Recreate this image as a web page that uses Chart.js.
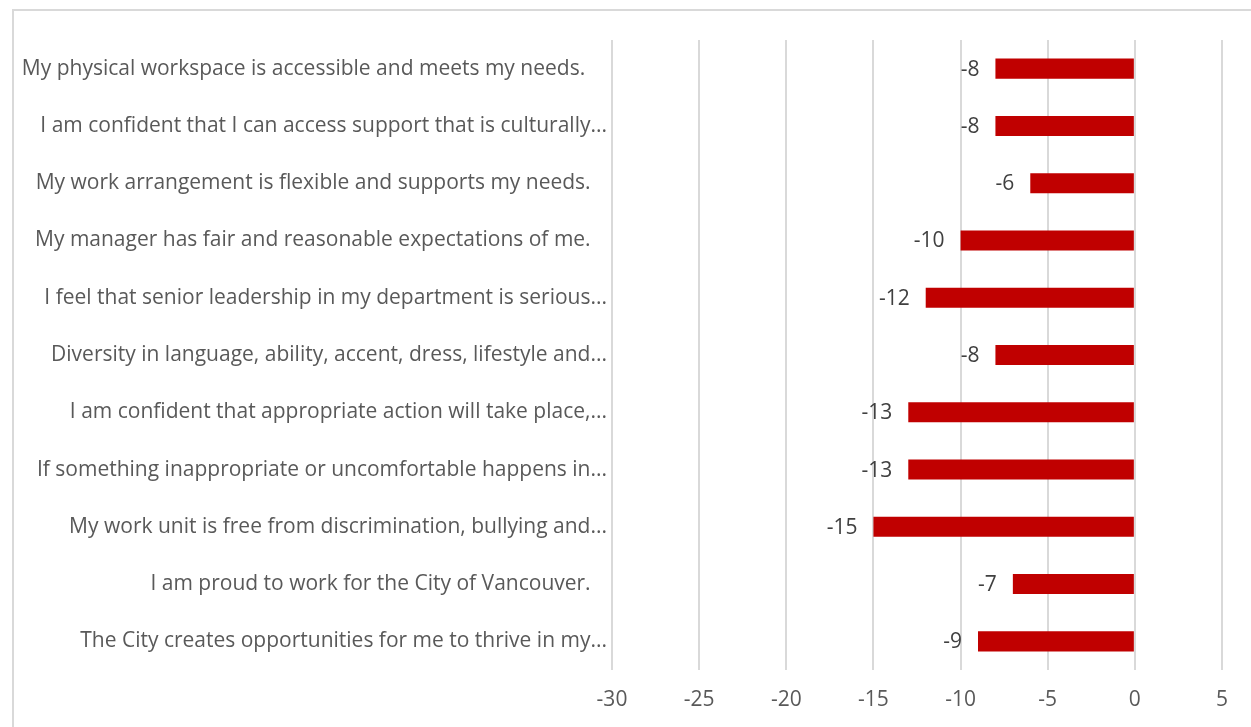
<!DOCTYPE html>
<html>
<head>
<meta charset="utf-8">
<script src="https://cdn.jsdelivr.net/npm/chart.js@4/dist/chart.umd.min.js"></script>
<style>
  html, body { margin: 0; padding: 0; background: #ffffff; overflow: hidden; }
  #wrap { position: relative; width: 1251px; height: 727px; }
  #frame { position: absolute; left: 12px; top: 9px; width: 1300px; height: 800px;
           border-top: 2px solid #d9d9d9; border-left: 2px solid #d9d9d9; box-sizing: border-box; }
  canvas { position: absolute; left: 0; top: 0; }
</style>
</head>
<body>
<div id="wrap">
  <div id="frame"></div>
  <canvas id="chart" width="1251" height="727"></canvas>
</div>
<script>
// Survey statements (top to bottom)
const statements = [
  "My physical workspace is accessible and meets my needs.    ",
  "I am confident that I can access support that is culturally...",
  "My work arrangement is flexible and supports my needs.   ",
  "My manager has fair and reasonable expectations of me.   ",
  "I feel that senior leadership in my department is serious...",
  "Diversity in language, ability, accent, dress, lifestyle and...",
  "I am confident that appropriate action will take place,...",
  "If something inappropriate or uncomfortable happens in...",
  "My work unit is free from discrimination, bullying and...",
  "I am proud to work for the City of Vancouver.   ",
  "The City creates opportunities for me to thrive in my..."
];

// Change in agreement (points)
const changes = [-8, -8, -6, -10, -12, -8, -13, -13, -15, -7, -9];

// Value axis range and step
const axisMin = -30;
const axisMax = 5;
const axisStep = 5;

const FONT = "'Open Sans', Lato, sans-serif";

// Value labels drawn just left of each bar's end
const valueLabels = {
  id: 'valueLabels',
  afterDatasetsDraw(chart) {
    const ctx = chart.ctx;
    const meta = chart.getDatasetMeta(0);
    ctx.save();
    ctx.font = "21px " + FONT;
    ctx.fillStyle = '#404040';
    ctx.textAlign = 'right';
    ctx.textBaseline = 'middle';
    meta.data.forEach((bar, i) => {
      ctx.fillText(String(changes[i]), bar.x - 16, bar.y + 1);
    });
    ctx.restore();
  }
};

new Chart(document.getElementById('chart'), {
  type: 'bar',
  data: {
    labels: statements,
    datasets: [{
      data: changes,
      backgroundColor: '#C00000',
      borderWidth: 0,
      categoryPercentage: 1,
      barPercentage: 0.35
    }]
  },
  options: {
    indexAxis: 'y',
    responsive: false,
    devicePixelRatio: 1,
    animation: false,
    layout: { padding: { top: 40, right: 29, bottom: 0, left: 0 } },
    plugins: {
      legend: { display: false },
      tooltip: { enabled: false }
    },
    scales: {
      x: {
        min: axisMin,
        max: axisMax,
        ticks: {
          stepSize: axisStep,
          color: '#595959',
          font: { family: FONT, size: 21 },
          padding: 17
        },
        grid: { color: '#d9d9d9', lineWidth: 2, drawTicks: false },
        border: { display: false },
        afterFit(scale) { scale.height = 57; }
      },
      y: {
        ticks: {
          color: '#595959',
          font: { family: FONT, size: 21 },
          padding: 5,
          autoSkip: false
        },
        grid: { display: false, drawTicks: false },
        border: { display: false },
        afterFit(scale) { scale.width = 612; }
      }
    }
  },
  plugins: [valueLabels]
});
</script>
</body>
</html>
